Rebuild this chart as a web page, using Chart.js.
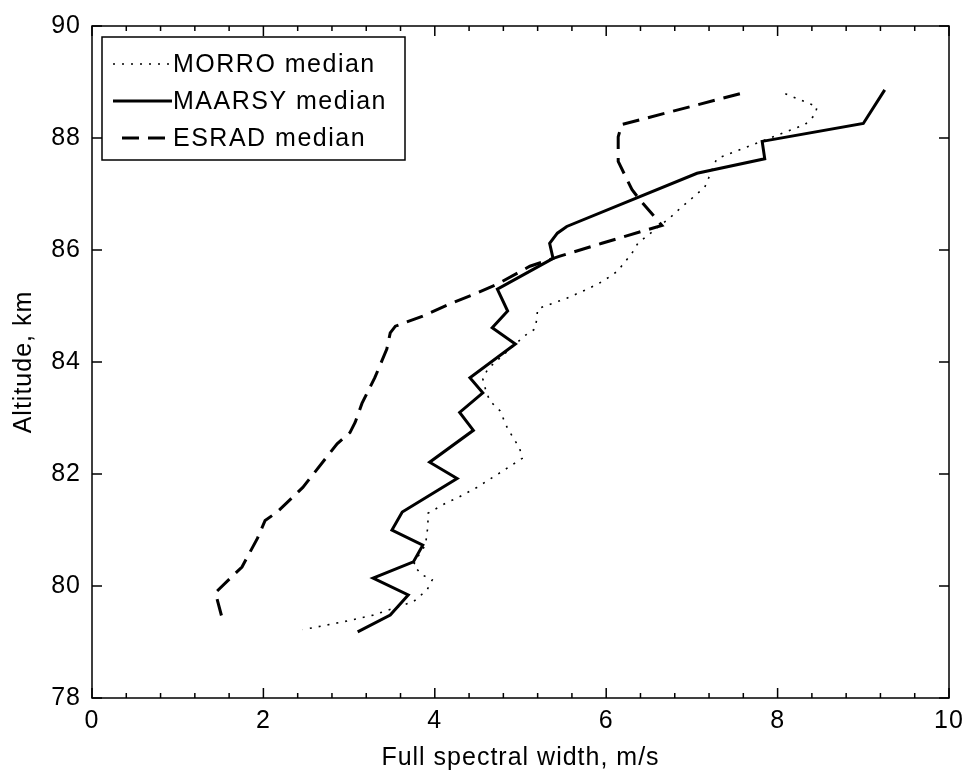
<!DOCTYPE html>
<html>
<head>
<meta charset="utf-8">
<script src="https://cdn.jsdelivr.net/npm/chart.js@4.4.1/dist/chart.umd.min.js"></script>
<style>
  body { margin: 0; background: #fff; }
  #wrap { width: 968px; height: 781px; }
</style>
</head>
<body>
<div id="wrap"><canvas id="widthChart" width="968" height="781"></canvas></div>
<script>
// full spectral width (m/s) vs altitude (km)
var morroWidth = [8.09, 8.46, 8.44, 8.32, 7.29, 7.15, 6.86, 6.74, 6.59, 6.37, 6.30, 6.13, 5.96, 5.78, 5.54, 5.20, 5.19, 5.17, 5.05,
                  4.62, 4.56, 4.59, 4.64, 4.76, 4.85, 4.99, 5.02, 4.80, 4.49, 4.26, 4.14, 3.92, 3.92, 3.91, 3.89, 3.80, 3.75,
                  3.85, 3.97, 3.91, 3.75, 3.28, 2.93, 2.46];
var morroAlt   = [88.79, 88.56, 88.42, 88.24, 87.63, 87.12, 86.74, 86.57, 86.39, 86.12, 85.94, 85.62, 85.44, 85.30, 85.14, 84.95, 84.77, 84.59, 84.47,
                  83.88, 83.70, 83.52, 83.31, 83.13, 82.81, 82.46, 82.28, 82.06, 81.76, 81.57, 81.49, 81.30, 81.12, 80.94, 80.73, 80.52, 80.37,
                  80.20, 80.11, 79.93, 79.72, 79.48, 79.36, 79.22];

var maarsyWidth = [9.25, 9.00, 7.82, 7.85, 7.06, 5.54, 5.43, 5.34, 5.38, 4.73, 4.85, 4.67, 4.94, 4.41, 4.56, 4.29, 4.45, 3.94, 4.26,
                   3.62, 3.50, 3.86, 3.75, 3.28, 3.69, 3.48, 3.10];
var maarsyAlt   = [88.86, 88.26, 87.94, 87.63, 87.37, 86.42, 86.30, 86.12, 85.85, 85.30, 84.91, 84.61, 84.32, 83.72, 83.45, 83.10, 82.78, 82.21, 81.92,
                   81.32, 81.00, 80.73, 80.43, 80.14, 79.84, 79.48, 79.18];

var esradWidth = [7.56, 6.18, 6.14, 6.14, 6.30, 6.39, 6.65, 5.95, 5.46, 5.11, 4.73, 4.49, 4.18, 3.86, 3.54, 3.48, 3.44, 3.30, 3.15,
                  3.07, 3.01, 2.86, 2.46, 2.16, 2.02, 1.93, 1.75, 1.44, 1.53];
var esradAlt   = [88.79, 88.24, 88.02, 87.58, 87.08, 86.90, 86.44, 86.12, 85.89, 85.71, 85.39, 85.23, 85.04, 84.82, 84.64, 84.52, 84.23, 83.72, 83.26,
                  82.92, 82.74, 82.54, 81.76, 81.32, 81.17, 80.85, 80.34, 79.88, 79.36];

var seriesNames = ['MORRO median', 'MAARSY median', 'ESRAD median'];
var xTicks = [0, 2, 4, 6, 8, 10];
var yTicks = [78, 80, 82, 84, 86, 88, 90];
var xMinorStep = 0.4;

var FONT = 'Liberation Sans, Arial, sans-serif';

function pairs(xs, ys) {
	var out = [];
	for (var i = 0; i < xs.length; i++) out.push({ x: xs[i], y: ys[i] });
	return out;
}

// the original text is set a little looser than Liberation Sans
var spacingPlugin = {
	id: 'spacing',
	beforeDraw: function(chart) {
		chart.ctx.letterSpacing = '1px';
	}
};

// box round the plot, inward ticks, and the legend
var framePlugin = {
	id: 'frame',
	afterDatasetsDraw: function(chart) {
		var ctx = chart.ctx, a = chart.chartArea;
		var xs = chart.scales.x, ys = chart.scales.y;
		ctx.save();
		ctx.strokeStyle = '#000';
		ctx.lineWidth = 1.5;
		ctx.strokeRect(a.left, a.top, a.right - a.left, a.bottom - a.top);

		ctx.beginPath();
		for (var v = 0; v <= 10.001; v += xMinorStep) {
			var px = xs.getPixelForValue(v);
			var major = Math.abs(v / 2 - Math.round(v / 2)) < 0.01;
			var len = major ? 10 : 5;
			ctx.moveTo(px, a.bottom); ctx.lineTo(px, a.bottom - len);
			ctx.moveTo(px, a.top); ctx.lineTo(px, a.top + len);
		}
		yTicks.forEach(function(t) {
			var py = ys.getPixelForValue(t);
			ctx.moveTo(a.left, py); ctx.lineTo(a.left + 10, py);
			ctx.moveTo(a.right, py); ctx.lineTo(a.right - 10, py);
		});
		ctx.stroke();

		// legend
		var lx = a.left + 10, ly = a.top + 11, lw = 303, lh = 123;
		ctx.fillStyle = '#fff';
		ctx.fillRect(lx, ly, lw, lh);
		ctx.lineWidth = 1.5;
		ctx.strokeRect(lx, ly, lw, lh);
		var rows = [27, 64, 101];
		chart.data.datasets.forEach(function(ds, i) {
			var ry = ly + rows[i];
			ctx.save();
			ctx.strokeStyle = '#000';
			ctx.lineWidth = ds.borderWidth;
			ctx.setLineDash(ds.borderDash || []);
			ctx.beginPath();
			if (i == 2) { ctx.moveTo(lx + 20, ry); ctx.lineTo(lx + 68, ry); }
			else { ctx.moveTo(lx + 11, ry); ctx.lineTo(lx + 70, ry); }
			ctx.stroke();
			ctx.restore();
			ctx.fillStyle = '#000';
			ctx.font = '25px ' + FONT;
			ctx.letterSpacing = '1.5px';
			ctx.textBaseline = 'middle';
			ctx.fillText(ds.label, lx + 71, ry + 1);
		});
		ctx.restore();
	}
};

var ctx = document.getElementById('widthChart').getContext('2d');
var widthChart = new Chart(ctx, {
	type: 'scatter',
	data: {
		datasets: [{
			label: seriesNames[0],
			data: pairs(morroWidth, morroAlt),
			showLine: true,
			borderColor: '#000',
			borderWidth: 1.6,
			borderDash: [2, 7],
			pointRadius: 0,
			tension: 0
		}, {
			label: seriesNames[1],
			data: pairs(maarsyWidth, maarsyAlt),
			showLine: true,
			borderColor: '#000',
			borderWidth: 3,
			pointRadius: 0,
			tension: 0
		}, {
			label: seriesNames[2],
			data: pairs(esradWidth, esradAlt),
			showLine: true,
			borderColor: '#000',
			borderWidth: 3,
			borderDash: [17, 9],
			pointRadius: 0,
			tension: 0
		}]
	},
	options: {
		responsive: false,
		animation: false,
		layout: { padding: { left: 0, top: 24, right: 19, bottom: 0 } },
		plugins: {
			legend: { display: false },
			tooltip: { enabled: false }
		},
		scales: {
			x: {
				type: 'linear',
				min: 0,
				max: 10,
				afterBuildTicks: function(scale) { scale.ticks = xTicks.map(function(v) { return { value: v }; }); },
				afterFit: function(scale) {
					scale.height = 83;
					scale.paddingLeft = 0;
					scale.paddingRight = 0;
				},
				grid: { display: false, drawTicks: false },
				border: { display: false },
				ticks: { color: '#000', padding: 8, font: { family: FONT, size: 25 }, maxRotation: 0 },
				title: { display: true, text: 'Full spectral width, m/s', color: '#000',
					font: { family: FONT, size: 25 }, padding: { top: 0, bottom: 8 } }
			},
			y: {
				type: 'linear',
				min: 78,
				max: 90,
				afterBuildTicks: function(scale) { scale.ticks = yTicks.map(function(v) { return { value: v }; }); },
				afterFit: function(scale) { scale.width = 92; },
				grid: { display: false, drawTicks: false },
				border: { display: false },
				ticks: { color: '#000', padding: 11, font: { family: FONT, size: 25 } },
				title: { display: true, text: 'Altitude, km', color: '#000',
					font: { family: FONT, size: 25 }, padding: { top: 9, bottom: 0 } }
			}
		}
	},
	plugins: [spacingPlugin, framePlugin]
});
</script>
</body>
</html>
